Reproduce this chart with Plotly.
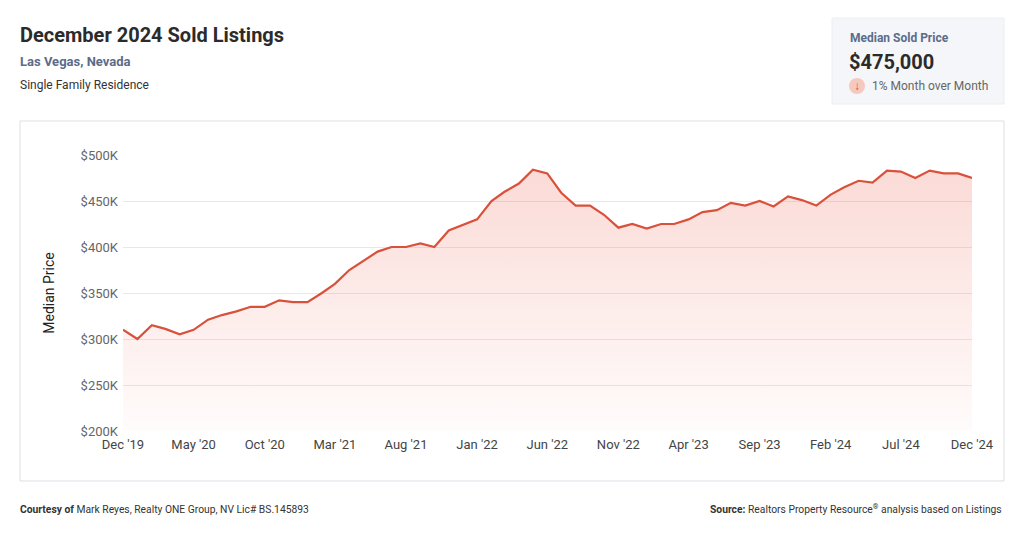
import pandas as pd
import plotly.graph_objects as go

months = pd.date_range("2019-12-01", "2024-12-01", freq="MS")
median_price = [310, 300, 315, 311, 305, 310, 321, 326, 330, 335, 335, 342, 340, 340,
                350, 360, 375, 385, 395, 400, 400, 404, 400, 418, 424, 430, 450, 460,
                469, 484, 480, 459, 445, 445, 435, 421, 425, 420, 425, 425, 430, 438,
                440, 448, 445, 450, 444, 455, 451, 445, 457, 465, 472, 470, 483, 482,
                475, 483, 480, 480, 475]
median_price = [v * 1000 for v in median_price]
tick_idx = list(range(0, 61, 5))
tick_dates = [months[i] for i in tick_idx]
tick_text = [d.strftime("%b '%y") for d in tick_dates]
y_ticks = [200000, 250000, 300000, 350000, 400000, 450000, 500000]

W, H = 1024, 537
def px(x): return x / W
def py(y): return 1 - y / H

fig = go.Figure()
fig.add_trace(go.Scatter(x=months, y=[200000] * len(months), mode="lines",
                         line=dict(width=0), hoverinfo="skip", showlegend=False))
fig.add_trace(go.Scatter(
    x=months, y=median_price, mode="lines", fill="tonexty",
    line=dict(color="#d9513a", width=2.2), showlegend=False,
    fillgradient=dict(type="vertical",
                      colorscale=[[0, "rgba(235,90,70,0.02)"], [1, "rgba(235,90,70,0.22)"]])))

fig.update_layout(
    width=W, height=H, margin=dict(l=0, r=0, t=0, b=0, autoexpand=False),
    paper_bgcolor="white", plot_bgcolor="white",
    font=dict(family="Roboto", color="#444"),
    xaxis=dict(domain=[px(123), px(972)], range=[months[0], months[-1]],
               tickvals=tick_dates, ticktext=tick_text, showgrid=False,
               zeroline=False, ticks="", ticklabelstandoff=4, tickfont=dict(size=13, color="#444")),
    yaxis=dict(domain=[py(431), py(155)], range=[200000, 500000],
               tickvals=y_ticks, ticktext=[f"${v // 1000}K" for v in y_ticks],
               gridcolor="#e8e8e8", zeroline=False, ticks="", ticklabelstandoff=4,
               tickfont=dict(size=13, color="#666"),
               title=dict(text="Median Price", font=dict(size=14, color="#222"), standoff=22)),
)

shapes = [
    dict(type="rect", xref="paper", yref="paper", x0=px(20), x1=px(1004), y0=py(481), y1=py(121),
         line=dict(color="#dcdfe4", width=1), fillcolor="rgba(0,0,0,0)", layer="below"),
    dict(type="rect", xref="paper", yref="paper", x0=px(832), x1=px(1004), y0=py(104), y1=py(18),
         line=dict(color="#eceef2", width=1), fillcolor="#f4f6f9", layer="below"),
    dict(type="circle", xref="paper", yref="paper", x0=px(849), x1=px(865), y0=py(94), y1=py(78),
         line=dict(width=0), fillcolor="#f6c9bf"),
]
fig.update_layout(shapes=shapes)

def txt(x, y, s, size, color, anchor="left", bold=False):
    fig.add_annotation(xref="paper", yref="paper", x=px(x), y=py(y), text=f"<b>{s}</b>" if bold else s,
                       showarrow=False, xanchor=anchor, yanchor="middle",
                       font=dict(size=size, color=color, family="Roboto"))

txt(18, 35, "December 2024 Sold Listings", 20, "#2b2b2b", bold=True)
txt(18, 61, "Las Vegas, Nevada", 13, "#5b6c8a", bold=True)
txt(18, 85, "Single Family Residence", 12, "#333")
txt(848, 38, "Median Sold Price", 12, "#5b6c8a", bold=True)
txt(847, 62, "$475,000", 20, "#2b2b2b", bold=True)
txt(857, 86, "↓", 12, "#d9513a", anchor="center", bold=True)
txt(870, 86, "1% Month over Month", 12, "#666")
txt(18, 509, "<b>Courtesy of</b> Mark Reyes, Realty ONE Group, NV Lic# BS.145893", 10.3, "#333")
txt(1004, 509, "<b>Source:</b> Realtors Property Resource<sup>®</sup> analysis based on Listings", 10.3, "#333", anchor="right")

fig.write_html("out.html", config={"displayModeBar": False},
               post_script="document.body.style.margin='0';document.body.style.overflow='hidden';")
